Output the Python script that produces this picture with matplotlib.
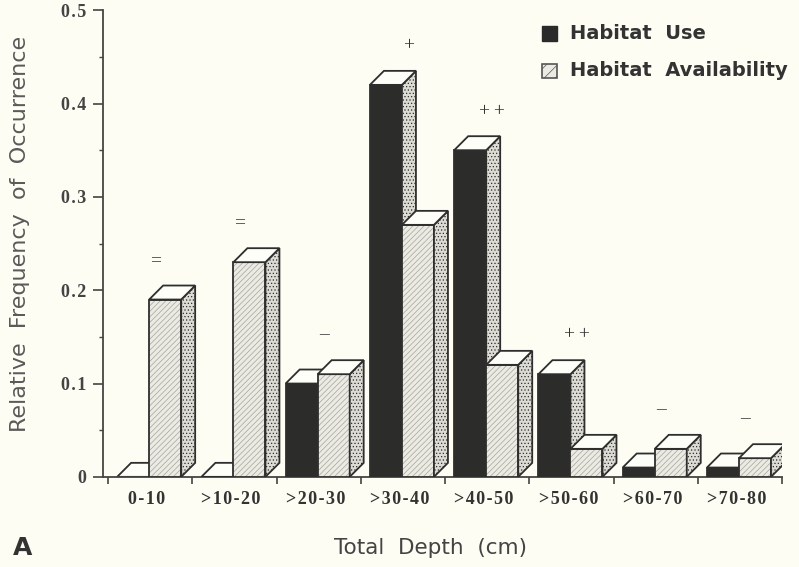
import matplotlib
matplotlib.use('Agg')
import matplotlib.pyplot as plt
from matplotlib.patches import Polygon, Rectangle

# data
depth_classes = ['0-10', '>10-20', '>20-30', '>30-40', '>40-50', '>50-60', '>60-70', '>70-80']
habitat_use = [0.0, 0.0, 0.10, 0.42, 0.35, 0.11, 0.01, 0.01]
habitat_avail = [0.19, 0.23, 0.11, 0.27, 0.12, 0.03, 0.03, 0.02]
signif = ['=', '=', '\u2013', '+', '++', '++', '\u2013', '\u2013']
y_ticks = [0, 0.1, 0.2, 0.3, 0.4, 0.5]
y_ticklabels = ['0', '0.1', '0.2', '0.3', '0.4', '0.5']

BG = '#fdfdf3'
EDGE = '#2e2e2e'
DARK = '#2c2c2a'
TOP = '#fefef8'
SIDE = '#dcdcd4'
FRONT_LIGHT = '#ebebe3'

plt.rcParams['hatch.linewidth'] = 0.5


def spaced(s, sep='\u200a'):
    # the original type is letter spaced
    return sep.join(s)


fig = plt.figure(figsize=(7.99, 5.67), dpi=100, facecolor=BG)
ax = fig.add_axes([0.129, 0.159, 0.850, 0.823])
ax.set_facecolor(BG)
ax.set_xlim(-0.06, 8.0)
ax.set_ylim(0, 0.5)

bar_w = 0.38
offset_use = 0.107
dx = 0.166   # depth offset (x, data units)
dy = 0.015   # depth offset (y, data units)


def draw_box(x0, h, front, z, hatch=None):
    # front face through bar(), then top and side as polygons
    if hatch:
        ax.bar(x0, h, width=bar_w, align='edge', color=front, edgecolor='#a4a49e',
               hatch=hatch, linewidth=0, zorder=z)
        ax.bar(x0, h, width=bar_w, align='edge', fill=False, edgecolor=EDGE,
               linewidth=1.3, zorder=z + 0.1)
    elif h > 0:
        ax.bar(x0, h, width=bar_w, align='edge', color=front, edgecolor=EDGE,
               linewidth=1.3, zorder=z + 0.1)
    x1 = x0 + bar_w
    top = Polygon([(x0, h), (x1, h), (x1 + dx, h + dy), (x0 + dx, h + dy)],
                  closed=True, facecolor=TOP, edgecolor=EDGE, linewidth=1.3, zorder=z + 0.2)
    side = Polygon([(x1, 0), (x1 + dx, dy), (x1 + dx, h + dy), (x1, h)],
                   closed=True, facecolor=SIDE, edgecolor=EDGE, linewidth=1.3,
                   hatch='.....', zorder=z + 0.2)
    ax.add_patch(side)
    ax.add_patch(top)


z = 2
for i in range(len(depth_classes)):
    xu = i + offset_use
    xa = xu + bar_w
    draw_box(xu, habitat_use[i], DARK, z)
    draw_box(xa, habitat_avail[i], FRONT_LIGHT, z + 1, hatch='//////')
    z += 2
    top_val = max(habitat_use[i], habitat_avail[i])
    ax.text(i + 0.56, top_val + 0.042, spaced(signif[i], '\u2009'), ha='center', va='center',
            fontsize=14, family='Liberation Serif', color='#333333')

# axes styling
for s in ['top', 'right']:
    ax.spines[s].set_visible(False)
for s in ['left', 'bottom']:
    ax.spines[s].set_color('#444444')
    ax.spines[s].set_linewidth(1.3)

ax.set_yticks(y_ticks)
ax.set_yticklabels([spaced(t) for t in y_ticklabels],
                   family='Liberation Serif', fontweight='bold', fontsize=13, color='#444444')
ax.set_yticks([0.05, 0.15, 0.25, 0.35, 0.45], minor=True)
ax.tick_params(axis='y', which='major', length=7, width=1.2, color='#444444', pad=5)
ax.tick_params(axis='y', which='minor', length=3, width=1.0, color='#444444')

ax.set_xticks(range(9))
ax.set_xticklabels([])
ax.tick_params(axis='x', length=5, width=1.2, color='#444444')
for i, lab in enumerate(depth_classes):
    ax.text(i + 0.46, -0.024, spaced(lab), ha='center', va='center', fontsize=13,
            family='Liberation Serif', fontweight='bold', color='#333333')

fig.text(0.025, 0.588, 'Relative  Frequency  of  Occurrence', rotation=90,
         ha='center', va='center', fontsize=16, color='#5a5a5a', family='DejaVu Sans')
fig.text(0.539, 0.033, 'Total  Depth  (cm)', ha='center', va='center',
         fontsize=15.5, color='#444444', family='DejaVu Sans')
fig.text(0.028, 0.033, 'A', ha='center', va='center', fontsize=18,
         fontweight='bold', color='#333333', family='DejaVu Sans')

# legend
lx, lw = 0.678, 0.019
fig.patches.append(Rectangle((lx, 0.928), lw, 0.026, transform=fig.transFigure,
                             facecolor='#2a2a2a', edgecolor='#2a2a2a', linewidth=1))
fig.patches.append(Rectangle((lx, 0.862), lw, 0.026, transform=fig.transFigure,
                             facecolor=FRONT_LIGHT, edgecolor='#555555', hatch='///',
                             linewidth=1.2))
fig.text(0.713, 0.941, 'Habitat  Use', ha='left', va='center', fontsize=14,
         fontweight='bold', color='#333333', family='DejaVu Sans')
fig.text(0.713, 0.875, 'Habitat  Availability', ha='left', va='center', fontsize=14,
         fontweight='bold', color='#333333', family='DejaVu Sans')

fig.savefig('out.png', dpi=100, facecolor=BG)
